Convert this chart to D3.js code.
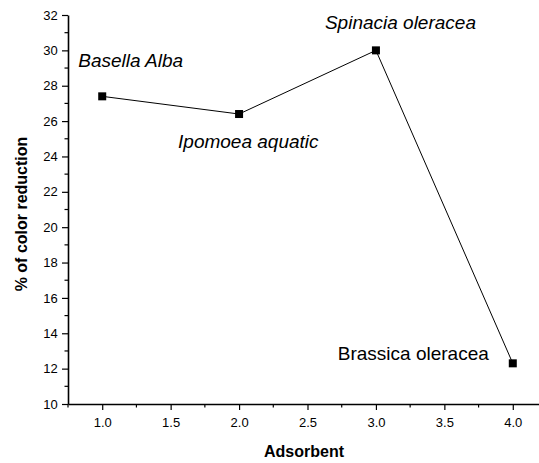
<!DOCTYPE html>
<html><head><meta charset="utf-8">
<script src="https://cdn.jsdelivr.net/npm/d3@7"></script>
<style>body{margin:0;background:#fff}svg{display:block}text{font-family:"Liberation Sans",Arial,sans-serif}</style>
</head><body>
<svg id="c" width="539" height="463"></svg>
<script>
const xValues = [1, 2, 3, 4];
const yValues = [27.4, 26.4, 30.0, 12.3];
const pointLabels = ["Basella Alba", "Ipomoea aquatic", "Spinacia oleracea", "Brassica oleracea"];
const xTicks = [1.0, 1.5, 2.0, 2.5, 3.0, 3.5, 4.0];
const yTicks = [10, 12, 14, 16, 18, 20, 22, 24, 26, 28, 30, 32];

const svg = d3.select("#c");
const x = d3.scaleLinear().domain([0.75, 4.25]).range([68, 547]);
const y = d3.scaleLinear().domain([10, 32]).range([404, 15]);

// minor ticks
const g = svg.append("g");
const xMinor = d3.range(0.75, 4.26, 0.25).filter(v => Math.abs(v*2 - Math.round(v*2)) > 1e-6);
g.selectAll(".xm").data(xMinor).enter().append("line")
  .attr("x1", d => x(d)).attr("x2", d => x(d)).attr("y1", 404).attr("y2", 407.5)
  .attr("stroke", "#000").attr("stroke-width", 1.2);
const yMinor = d3.range(11, 32, 2);
g.selectAll(".ym").data(yMinor).enter().append("line")
  .attr("y1", d => y(d)).attr("y2", d => y(d)).attr("x1", 68).attr("x2", 64.5)
  .attr("stroke", "#000").attr("stroke-width", 1.2);

const xAxis = svg.append("g").attr("transform", "translate(0,404)")
  .call(d3.axisBottom(x).tickValues(xTicks).tickFormat(d3.format(".1f")).tickSize(6).tickSizeOuter(0));
const yAxis = svg.append("g").attr("transform", "translate(68,0)")
  .call(d3.axisLeft(y).tickValues(yTicks).tickFormat(d3.format("d")).tickSize(6).tickSizeOuter(0));
[xAxis, yAxis].forEach(a => {
  a.select(".domain").attr("stroke", "#000").attr("stroke-width", 1.6);
  a.selectAll(".tick line").attr("stroke", "#000").attr("stroke-width", 1.2);
  a.selectAll(".tick text").attr("font-size", 13).attr("fill", "#000")
    .attr("font-family", '"Liberation Sans",Arial,sans-serif');
});
xAxis.selectAll(".tick text").attr("dy", "1.1em");
yAxis.selectAll(".tick text").attr("dx", "-0.1em");

const pts = xValues.map((v, i) => [v, yValues[i]]);
svg.append("path").datum(pts)
  .attr("d", d3.line().x(d => x(d[0])).y(d => y(d[1])))
  .attr("fill", "none").attr("stroke", "#000").attr("stroke-width", 1);
svg.selectAll(".pt").data(pts).enter().append("rect")
  .attr("x", d => x(d[0]) - 4).attr("y", d => y(d[1]) - 4)
  .attr("width", 8).attr("height", 8).attr("fill", "#000");

// point labels (positioned relative to data points)
const labelOffsets = [[-24, -29, "italic"], [-61, 34, "italic"], [-51, -21, "italic"], [-175, -3, "normal"]];
svg.selectAll(".lbl").data(pts).enter().append("text")
  .attr("x", (d, i) => x(d[0]) + labelOffsets[i][0])
  .attr("y", (d, i) => y(d[1]) + labelOffsets[i][1])
  .attr("font-size", 19).attr("font-style", (d, i) => labelOffsets[i][2])
  .text((d, i) => pointLabels[i]);

svg.append("text").attr("x", 304).attr("y", 457).attr("text-anchor", "middle")
  .attr("font-size", 16).attr("font-weight", "bold").text("Adsorbent");
svg.append("text").attr("transform", "translate(27,214) rotate(-90)").attr("text-anchor", "middle")
  .attr("font-size", 16).attr("font-weight", "bold").text("% of color reduction");
</script>
</body></html>
